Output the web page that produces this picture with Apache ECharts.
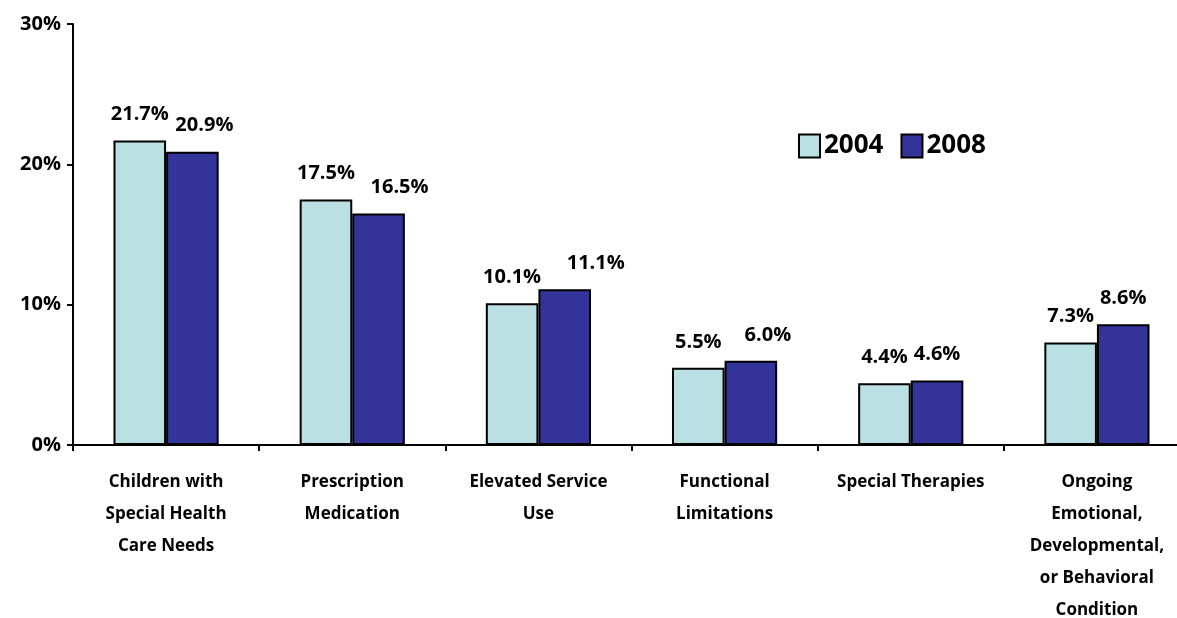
<!DOCTYPE html>
<html><head><meta charset="utf-8">
<script src="https://cdn.jsdelivr.net/npm/echarts@6/dist/echarts.min.js"></script>
<style>html,body{margin:0;padding:0;background:#fff}#c{width:1177px;height:618px}</style>
</head><body><div id="c"></div>
<script>
const categories = ["Children with\nSpecial Health\nCare Needs","Prescription\nMedication","Elevated Service\nUse","Functional\nLimitations","Special Therapies","Ongoing\nEmotional,\nDevelopmental,\nor Behavioral\nCondition"];
const seriesNames = ["2004","2008"];
const values2004 = [21.7,17.5,10.1,5.5,4.4,7.3];
const values2008 = [20.9,16.5,11.1,6.0,4.6,8.6];
const yTicks = [0,10,20,30];

// layout: horizontal nudges of the 2008 value labels, as placed in the original
const labelShift2008 = [12,21,31,17,0,0];

const font = "'Open Sans', 'Liberation Sans', sans-serif";
const chart = echarts.init(document.getElementById('c'));
const lbl = {show:true, position:'top', distance:16, formatter: p => p.value.toFixed(1)+'%', fontFamily:font, fontWeight:'bold', fontSize:20, color:'#000'};
chart.setOption({
  animation:false,
  legend:{data:seriesNames, left:793, top:128, icon:'rect', itemWidth:21, itemHeight:23, itemGap:17,
    itemStyle:{borderColor:'#000', borderWidth:2},
    textStyle:{fontFamily:font, fontWeight:'bold', fontSize:26, color:'#000', padding:[0,0,0,-1]}},
  grid:{left:73, right:-13, top:24, bottom:173, containLabel:false, outerBoundsMode:'none'},
  xAxis:{type:'category', data:categories,
    axisLine:{lineStyle:{color:'#000', width:2}},
    axisTick:{show:true, length:6, lineStyle:{color:'#000', width:2}},
    axisLabel:{interval:0, margin:21, fontFamily:font, fontWeight:'bold', fontSize:17, lineHeight:32, color:'#000'}},
  yAxis:{type:'value', min:yTicks[0], max:yTicks[yTicks.length-1], interval:10,
    splitLine:{show:false},
    axisLine:{show:true, lineStyle:{color:'#000', width:2}},
    axisTick:{show:true, length:6, lineStyle:{color:'#000', width:2}},
    axisLabel:{formatter:'{value}%', margin:12, fontFamily:font, fontWeight:'bold', fontSize:20, color:'#000'}},
  series:[
    {name:seriesNames[0], type:'bar', data:values2004, barGap:'0%', barCategoryGap:'43.5%',
      itemStyle:{color:'#BAE0E3', borderColor:'#000', borderWidth:2}, label:lbl},
    {name:seriesNames[1], type:'bar',
      data:values2008.map((v,i)=>({value:v, label:{offset:[labelShift2008[i],0]}})),
      itemStyle:{color:'#333399', borderColor:'#000', borderWidth:2}, label:lbl}
  ]
});
</script></body></html>
